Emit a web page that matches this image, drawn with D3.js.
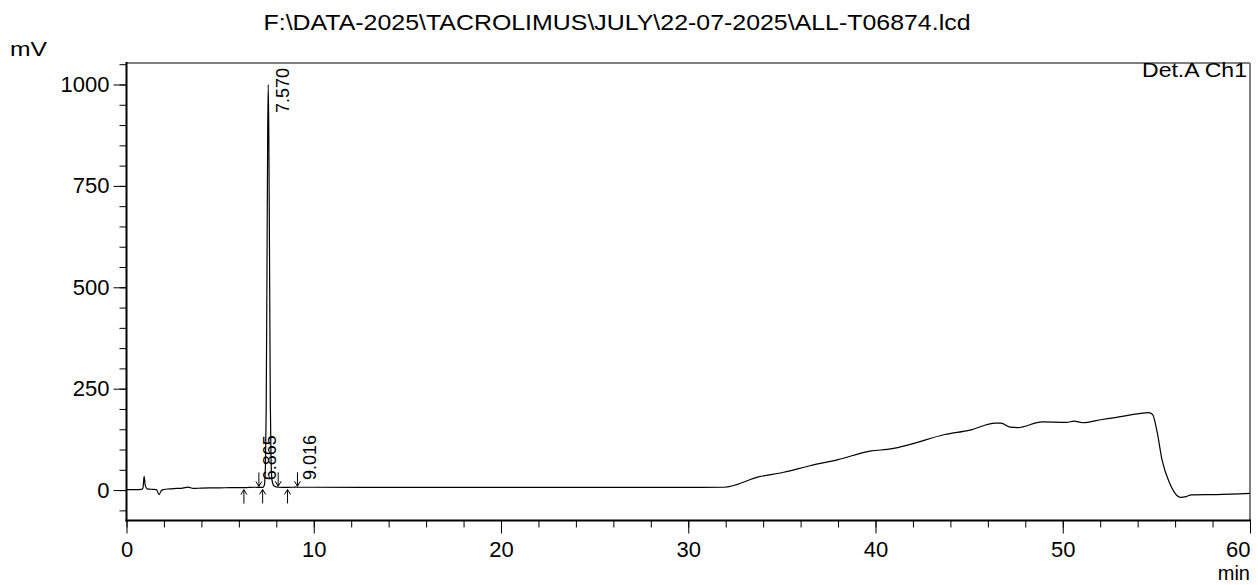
<!DOCTYPE html>
<html>
<head>
<meta charset="utf-8">
<script src="https://cdn.jsdelivr.net/npm/d3@7"></script>
<style>
  html, body { margin: 0; padding: 0; background: #fff; }
  svg { display: block; font-family: "Liberation Sans", Arial, Helvetica, sans-serif; }
</style>
</head>
<body>
<svg id="chart" width="1258" height="585"></svg>
<script>
// ---- data ----
const titleText = "F:\\DATA-2025\\TACROLIMUS\\JULY\\22-07-2025\\ALL-T06874.lcd";
const channelLabel = "Det.A Ch1";
const yUnit = "mV";
const xUnit = "min";

const timeMin = [0, 0.5, 0.8, 0.88, 0.94, 1.0, 1.1, 1.3, 1.6, 1.74, 1.85, 1.96, 2.3, 2.67, 3.0, 3.29, 3.56, 4.0, 4.45, 5.0, 5.52, 6.0,
  6.27, 6.865, 7.07, 7.27, 7.36, 7.42, 7.46, 7.50, 7.54, 7.57, 7.60, 7.64, 7.68, 7.72, 7.78, 7.88, 8.10, 8.60, 9.016, 9.13,
  10, 15, 20, 25, 31.9, 33.8, 35.1, 36.5, 38.0, 39.7, 40.9, 41.8, 43.7, 45.05, 46.4, 46.7, 47.2, 47.6, 48.9, 50.2, 50.6, 51.05,
  52.1, 52.7, 54.0, 54.6, 54.8, 55.05, 55.3, 55.7, 56.0, 56.3, 56.6, 56.85, 58.2, 60];
const signalMv = [1, 1, 1.5, 5, 34, 12, 3, 2, 1, -11, -2, 1, 3, 4, 5, 7.5, 4, 5, 5.5, 5.5, 6, 6,
  6, 7, 6.5, 6.5, 12, 60, 200, 520, 880, 1000, 880, 560, 220, 70, 22, 10, 7, 6.5, 7.5, 7,
  7, 6.5, 6.5, 6.5, 7, 33, 44, 60, 75, 96, 102, 112, 137, 148, 165, 165, 155, 154, 168, 167, 170, 166,
  174, 178, 188, 191, 186, 141, 75, 18, -8, -18, -16, -12, -11, -8];

const peakTimes = [6.865, 7.570, 9.016];
const peakStartTimes = [6.27, 7.27, 8.60];   // up arrows
const peakEndTimes = [7.07, 8.10, 9.13];     // down arrows

const xMajorTicks = [0, 10, 20, 30, 40, 50, 60];
const yMajorTicks = [0, 250, 500, 750, 1000];
const xDomain = [0, 60];
const yDomain = [-75, 1053];

// ---- layout ----
const svg = d3.select("#chart");
const L = 126.5, R = 1250, T = 63, B = 520.5;

const x = d3.scaleLinear().domain(xDomain).range([L, R]);
const y = d3.scaleLinear().domain(yDomain).range([B, T]);

const points = timeMin.map((t, i) => [t, signalMv[i]]);
const bis = d3.bisector(d => d[0]).left;
function valueAt(t) {
  const i = Math.max(1, Math.min(points.length - 1, bis(points, t)));
  const a = points[i - 1], b = points[i];
  const f = (t - a[0]) / (b[0] - a[0]);
  return a[1] + f * (b[1] - a[1]);
}

// title
svg.append("text").attr("x", 617).attr("y", 30).attr("text-anchor", "middle")
  .attr("font-size", 22).attr("fill", "#000")
  .attr("textLength", 707).attr("lengthAdjust", "spacingAndGlyphs").text(titleText);

// axis unit labels
svg.append("text").attr("x", 10).attr("y", 56).attr("font-size", 21)
  .attr("textLength", 37).attr("lengthAdjust", "spacingAndGlyphs").text(yUnit);
svg.append("text").attr("x", R).attr("y", 580).attr("text-anchor", "end").attr("font-size", 20).text(xUnit);

// minor ticks
const yMinor = d3.range(-50, 1051, 50);
const xMinor = d3.range(0, 61, 2);

const yMinorAxis = svg.append("g").attr("transform", `translate(${L},0)`)
  .call(d3.axisLeft(y).tickValues(yMinor).tickSize(7).tickFormat(""));
const yMajorAxis = svg.append("g").attr("transform", `translate(${L},0)`)
  .call(d3.axisLeft(y).tickValues(yMajorTicks).tickSize(13).tickPadding(4).tickFormat(d3.format("d")));
const xMinorAxis = svg.append("g").attr("transform", `translate(0,${B})`)
  .call(d3.axisBottom(x).tickValues(xMinor).tickSize(7).tickFormat(""));
const xMajorAxis = svg.append("g").attr("transform", `translate(0,${B})`)
  .call(d3.axisBottom(x).tickValues(xMajorTicks).tickSize(13).tickPadding(8).tickFormat(d3.format("d")));

[yMinorAxis, yMajorAxis, xMinorAxis, xMajorAxis].forEach(g => {
  g.select(".domain").remove();
  g.selectAll(".tick line").attr("stroke", "#000").attr("stroke-width", 1);
  g.selectAll(".tick text").attr("font-size", 22).attr("fill", "#000")
    .attr("font-family", "\"Liberation Sans\", Arial, sans-serif");
});
xMajorAxis.selectAll(".tick text").filter(d => d === 60).attr("text-anchor", "end").attr("dx", 0);

// frame: gray top/right, black left/bottom
svg.append("line").attr("x1", L).attr("x2", R).attr("y1", T).attr("y2", T)
  .attr("stroke", "#808080").attr("stroke-width", 2);
svg.append("line").attr("x1", R).attr("x2", R).attr("y1", T).attr("y2", B)
  .attr("stroke", "#808080").attr("stroke-width", 2);
svg.append("line").attr("x1", L).attr("x2", L).attr("y1", T - 1).attr("y2", B + 1)
  .attr("stroke", "#000").attr("stroke-width", 2);
svg.append("line").attr("x1", L - 1).attr("x2", R + 1).attr("y1", B).attr("y2", B)
  .attr("stroke", "#000").attr("stroke-width", 2);

// channel label
svg.append("text").attr("x", R - 3).attr("y", 77).attr("text-anchor", "end")
  .attr("font-size", 21).attr("textLength", 105).attr("lengthAdjust", "spacingAndGlyphs")
  .text(channelLabel);

// chromatogram trace
svg.append("clipPath").attr("id", "plotclip").append("rect")
  .attr("x", L).attr("y", T).attr("width", R - L).attr("height", B - T);
svg.append("path").datum(points)
  .attr("clip-path", "url(#plotclip)")
  .attr("fill", "none").attr("stroke", "#000").attr("stroke-width", 1.2)
  .attr("d", d3.line().x(d => x(d[0])).y(d => y(d[1])).curve(d3.curveMonotoneX));

// peak start (up) and end (down) arrows
const arrows = svg.append("g").attr("stroke", "#000").attr("stroke-width", 1).attr("fill", "none");
peakStartTimes.forEach(t => {
  const px = x(t), yb = y(valueAt(t));
  arrows.append("path").attr("d", `M${px},${yb + 16}L${px},${yb + 2}M${px - 3},${yb + 7}L${px},${yb + 2}L${px + 3},${yb + 7}`);
});
peakEndTimes.forEach(t => {
  const px = x(t), yb = y(valueAt(t));
  arrows.append("path").attr("d", `M${px},${yb - 15}L${px},${yb - 1}M${px - 3},${yb - 6}L${px},${yb - 1}L${px + 3},${yb - 6}`);
});

// retention time labels (rotated)
peakTimes.forEach(t => {
  const px = x(t) + 21;
  const txt = svg.append("text").attr("font-size", 18).attr("fill", "#000").text(t.toFixed(3));
  const len = txt.node().getComputedTextLength();
  const yb = Math.max(y(valueAt(t)) - 7, T + 5 + len);
  txt.attr("transform", `translate(${px},${yb}) rotate(-90)`);
});
</script>
</body>
</html>
